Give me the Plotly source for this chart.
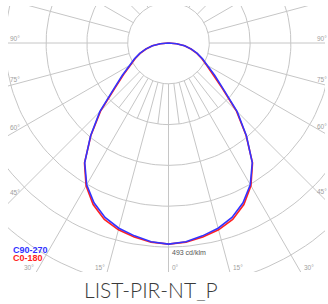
import math
import plotly.graph_objects as go

# ---- data (cd/klm) ----
gamma = [0, 5, 10, 15, 20, 25, 30, 35, 40, 45, 50, 55, 60, 65, 70, 75, 80, 85, 90]
c90_270 = [493, 489, 480, 470, 455, 432, 401, 358, 297, 238, 175, 138, 110, 92, 75, 58, 40, 20, 0]
c0_180 = [493, 490, 483, 474, 460, 437, 404, 359, 296, 235, 171, 134, 107, 90, 74, 57, 40, 20, 0]

ring_values = [100, 200, 300, 400, 500, 600, 700]
major_angles = list(range(0, 360, 15))
minor_angles = [-37.5, -22.5, -7.5, 7.5, 22.5, 37.5]
side_labels = [90, 75, 60, 45]
bottom_label_angles = [-30, -15, 0, 15, 30]
scale_label = "493 cd/klm"
series_names = ["C90-270", "C0-180"]
series_colors = ["#3333ff", "#ff2222"]
title_text = "LIST-PIR-NT_P"

# ---- geometry ----
W, H = 328, 304
PX = 0.408                 # pixels per cd/klm
CX, CY = 168.5, 43         # pole position in pixels
L, R, T, B = 8, 325, 6, 272
xr = [(L - CX) / PX, (R - CX) / PX]
yr = [-(B - CY) / PX, (CY - T) / PX]
inner_r, minor_outer, outer_r = 100, 200, 900


def pol(r, g):
    a = math.radians(g)
    return r * math.sin(a), -r * math.cos(a)


def px2paper(px, py):
    return (px - L) / (R - L), (B - py) / (B - T)


fig = go.Figure()

# rings
rx, ry = [], []
for rv in ring_values:
    for k in range(0, 361, 2):
        x, y = pol(rv, k)
        rx.append(x); ry.append(y)
    rx.append(None); ry.append(None)
fig.add_trace(go.Scatter(x=rx, y=ry, mode="lines", line=dict(color="#c6c6c6", width=1),
                         hoverinfo="skip", showlegend=False))

# radial lines
lx, ly = [], []
for a in major_angles:
    for rv in (inner_r, outer_r):
        x, y = pol(rv, a)
        lx.append(x); ly.append(y)
    lx.append(None); ly.append(None)
for a in minor_angles:
    for rv in (inner_r, minor_outer):
        x, y = pol(rv, a)
        lx.append(x); ly.append(y)
    lx.append(None); ly.append(None)
fig.add_trace(go.Scatter(x=lx, y=ly, mode="lines", line=dict(color="#c6c6c6", width=1),
                         hoverinfo="skip", showlegend=False))

# curves (red first, blue on top)
for name, vals, col in [(series_names[1], c0_180, series_colors[1]),
                        (series_names[0], c90_270, series_colors[0])]:
    gs = [-g for g in reversed(gamma)] + gamma[1:]
    rs = list(reversed(vals)) + vals[1:]
    pts = [pol(r, g) for r, g in zip(rs, gs)]
    fig.add_trace(go.Scatter(x=[p[0] for p in pts], y=[p[1] for p in pts], mode="lines",
                             line=dict(color=col, width=1.6), name=name,
                             hoverinfo="skip", showlegend=False))

ann = []
lab_font = dict(family="Liberation Sans, Arial", size=6.5, color="#a0a0a0")
# side labels
for g in side_labels:
    for side in (-1, 1):
        xc = (14.5 - CX) / PX if side < 0 else (321.5 - CX) / PX
        yl = -abs(xc) / math.tan(math.radians(g)) if g != 90 else 0
        ann.append(dict(x=xc, y=yl, xref="x", yref="y", text=f"{g}°", showarrow=False,
                        xanchor="center", yanchor="bottom", font=lab_font, borderpad=0))
# bottom labels
for a in bottom_label_angles:
    xb = -yr[0] * math.tan(math.radians(a))
    ann.append(dict(x=xb, y=yr[0], xref="x", yref="y", text=f"{abs(a)}°", showarrow=False,
                    xanchor="right" if a < 0 else "left", xshift=-1 if a < 0 else 2,
                    yanchor="bottom", font=lab_font, borderpad=0))
# scale label
ann.append(dict(x=0, y=-c90_270[0], xref="x", yref="y", text=scale_label, showarrow=False,
                xanchor="left", yanchor="top", xshift=2, yshift=-4, borderpad=0,
                font=dict(family="Liberation Sans, Arial", size=7, color="#555555")))
# legend texts
for i, (nm, col) in enumerate(zip(series_names, series_colors)):
    px_, py_ = px2paper(12, 250 + 8 * i)
    ann.append(dict(x=px_, y=py_, xref="paper", yref="paper", text=f"<b>{nm}</b>",
                    showarrow=False, xanchor="left", yanchor="middle", borderpad=0,
                    font=dict(family="Liberation Sans, Arial", size=9, color=col)))
# title
tx, ty = px2paper(151, 289)
ann.append(dict(x=tx, y=ty, xref="paper", yref="paper", text=title_text, showarrow=False,
                xanchor="center", yanchor="middle",
                font=dict(family="Lato", size=21, color="#3a3a3a", weight=300)))

fig.update_layout(
    width=W, height=H,
    margin=dict(l=L, r=W - R, t=T, b=H - B),
    paper_bgcolor="white", plot_bgcolor="white",
    xaxis=dict(range=xr, visible=False, fixedrange=True),
    yaxis=dict(range=yr, visible=False, fixedrange=True),
    annotations=ann,
    showlegend=False,
)

fig.write_html("out.html", config={"displayModeBar": False},
               post_script="document.body.style.margin='0';document.body.style.overflow='hidden';")
